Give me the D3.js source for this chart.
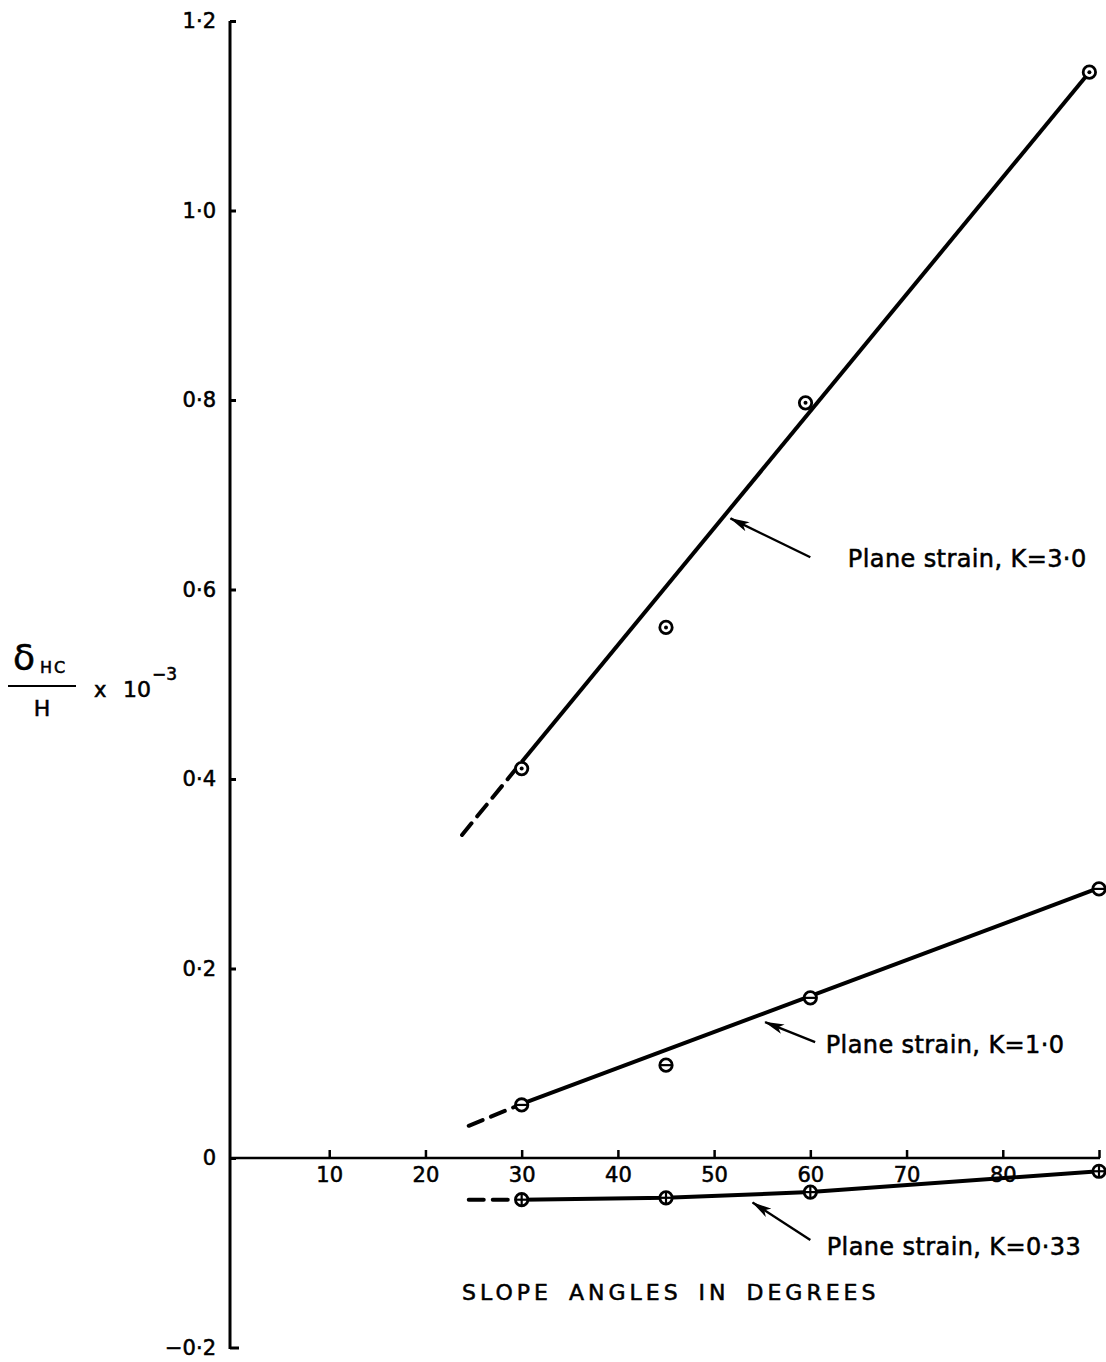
<!DOCTYPE html>
<html>
<head>
<meta charset="utf-8">
<script src="https://cdn.jsdelivr.net/npm/d3@7"></script>
<style>
  body { margin: 0; background: #fff; }
  svg { display: block; }
  text { font-family: "DejaVu Sans", sans-serif; fill: #000; stroke: #000; stroke-width: 0.55px; }
</style>
</head>
<body>
<svg id="chart" width="1106" height="1362"></svg>
<script>
// ---- data: horizontal crest displacement vs slope angle ----
const angleTicks = [10, 20, 30, 40, 50, 60, 70, 80, 90];
const ratioTicks = [-0.2, 0, 0.2, 0.4, 0.6, 0.8, 1.0, 1.2];
const ratioTickLabels = ["\u22120\u00b72", "0", "0\u00b72", "0\u00b74", "0\u00b76", "0\u00b78", "1\u00b70", "1\u00b72"];

// Plane strain, K = 3.0
const k30Angles = [30, 45, 59.5, 89];
const k30Values = [0.411, 0.560, 0.797, 1.146];
const k30FitAngles = [23.8, 30, 89];
const k30FitValues = [0.341, 0.418, 1.146];

// Plane strain, K = 1.0
const k10Angles = [30, 45, 60, 90];
const k10Values = [0.056, 0.098, 0.169, 0.284];
const k10FitAngles = [24.5, 30, 90];
const k10FitValues = [0.034, 0.057, 0.285];

// Plane strain, K = 0.33
const k033Angles = [30, 45, 60, 90];
const k033Values = [-0.044, -0.042, -0.036, -0.014];
const k033FitAngles = [24.5, 30, 45, 60, 90];
const k033FitValues = [-0.044, -0.044, -0.042, -0.036, -0.014];

const seriesLabels = ["Plane strain, K=3\u00b70", "Plane strain, K=1\u00b70", "Plane strain, K=0\u00b733"];

// ---- layout ----
const svg = d3.select("#chart");
const x = d3.scaleLinear().domain([0, 90]).range([233, 1099]);
const y = d3.scaleLinear().domain([-0.2, 1.2]).range([1347.5, 21]);

const axisX = x(0) - 3;

// y axis: ticks point right, labels on the left
const yAxis = d3.axisLeft(y)
  .tickValues(ratioTicks)
  .tickSize(-6)
  .tickPadding(14)
  .tickFormat((d, i) => ratioTickLabels[i]);
const gy = svg.append("g").attr("transform", `translate(${axisX},0)`).call(yAxis);
gy.select(".domain").remove();
gy.selectAll(".tick line").attr("stroke", "#000").attr("stroke-width", 3);
gy.selectAll(".tick text").attr("font-size", 21).attr("font-family", "DejaVu Sans").attr("fill", "#000");
gy.selectAll(".tick").filter(d => d === -0.2).select("line").attr("x2", 9);
svg.append("line")
  .attr("x1", axisX).attr("x2", axisX)
  .attr("y1", y(1.2)).attr("y2", y(-0.2) + 1.5)
  .attr("stroke", "#000").attr("stroke-width", 3);

// x axis along zero: ticks point up, labels below
const xAxis = d3.axisBottom(x)
  .tickValues(angleTicks)
  .tickSize(-8)
  .tickPadding(9)
  .tickFormat(d3.format("d"));
const gx = svg.append("g").attr("transform", `translate(0,${y(0)})`).call(xAxis);
gx.select(".domain").remove();
gx.selectAll(".tick line").attr("stroke", "#000").attr("stroke-width", 2.5);
gx.selectAll(".tick text").attr("font-size", 21).attr("font-family", "DejaVu Sans").attr("fill", "#000");
gx.selectAll(".tick").filter(d => d === 90).select("text").remove();
svg.append("line")
  .attr("x1", axisX).attr("x2", x(90) + 1)
  .attr("y1", y(0)).attr("y2", y(0))
  .attr("stroke", "#000").attr("stroke-width", 2.5);

// ---- fitted lines (first segment is the dashed extrapolation) ----
function drawFit(angles, values) {
  const pts = angles.map((a, i) => [x(a), y(values[i])]);
  const line = d3.line();
  svg.append("path")
    .attr("d", line(pts.slice(0, 2)))
    .attr("fill", "none").attr("stroke", "#000").attr("stroke-width", 4)
    .attr("stroke-dasharray", "15,9").attr("stroke-linecap", "round");
  svg.append("path")
    .attr("d", line(pts.slice(1)))
    .attr("fill", "none").attr("stroke", "#000").attr("stroke-width", 4)
    .attr("stroke-linejoin", "round");
}
drawFit(k30FitAngles, k30FitValues);
drawFit(k10FitAngles, k10FitValues);
drawFit(k033FitAngles, k033FitValues);

// ---- markers ----
function drawMarkers(angles, values, kind) {
  const g = svg.append("g");
  const m = g.selectAll("g").data(angles.map((a, i) => [a, values[i]])).join("g")
    .attr("transform", d => `translate(${x(d[0])},${y(d[1])})`);
  m.append("circle").attr("r", 6.2).attr("fill", "#fff").attr("stroke", "#000").attr("stroke-width", 2.8);
  if (kind === "dot") {
    m.append("circle").attr("r", 2).attr("fill", "#000");
  } else if (kind === "bar") {
    m.append("line").attr("x1", -6).attr("x2", 6).attr("stroke", "#000").attr("stroke-width", 2.2);
  } else if (kind === "plus") {
    m.append("line").attr("x1", -6).attr("x2", 6).attr("stroke", "#000").attr("stroke-width", 2.2);
    m.append("line").attr("y1", -6).attr("y2", 6).attr("stroke", "#000").attr("stroke-width", 2.2);
  }
}
drawMarkers(k30Angles, k30Values, "dot");
drawMarkers(k10Angles, k10Values, "bar");
drawMarkers(k033Angles, k033Values, "plus");

// ---- leader arrows and series labels ----
const defs = svg.append("defs");
defs.append("marker")
  .attr("id", "head").attr("viewBox", "0 0 20 10")
  .attr("refX", 19).attr("refY", 5)
  .attr("markerWidth", 20).attr("markerHeight", 10)
  .attr("markerUnits", "userSpaceOnUse").attr("orient", "auto")
  .append("path").attr("d", "M0,0 L20,5 L0,10 L5,5 Z").attr("fill", "#000");

const leaders = [
  { tail: [60.0, 0.634], tip: [51.7, 0.675], text: [63.9, 0.624], label: seriesLabels[0] },
  { tail: [60.5, 0.1224], tip: [55.3, 0.1435], text: [61.6, 0.111], label: seriesLabels[1] },
  { tail: [60.0, -0.0865], tip: [54.0, -0.047], text: [61.7, -0.102], label: seriesLabels[2] }
];
leaders.forEach(l => {
  svg.append("line")
    .attr("x1", x(l.tail[0])).attr("y1", y(l.tail[1]))
    .attr("x2", x(l.tip[0])).attr("y2", y(l.tip[1]))
    .attr("stroke", "#000").attr("stroke-width", 2.4)
    .attr("marker-end", "url(#head)");
  svg.append("text")
    .attr("x", x(l.text[0])).attr("y", y(l.text[1]))
    .attr("font-size", 24).attr("letter-spacing", 0.4)
    .text(l.label);
});

// ---- axis titles ----
svg.append("text")
  .attr("x", 462).attr("y", 1300)
  .attr("font-size", 22).attr("letter-spacing", 4).attr("word-spacing", 6)
  .text("SLOPE ANGLES IN DEGREES");

const yl = svg.append("g");
yl.append("text").attr("x", 13).attr("y", 670).attr("font-size", 36).text("\u03b4");
yl.append("text").attr("x", 40).attr("y", 673).attr("font-size", 16).attr("letter-spacing", 2).text("HC");
yl.append("line").attr("x1", 8).attr("x2", 76).attr("y1", 686).attr("y2", 686)
  .attr("stroke", "#000").attr("stroke-width", 2);
yl.append("text").attr("x", 42).attr("y", 716).attr("font-size", 22).attr("text-anchor", "middle").text("H");
yl.append("text").attr("x", 94).attr("y", 697).attr("font-size", 21).text("x");
yl.append("text").attr("x", 123).attr("y", 697).attr("font-size", 22).text("10");
yl.append("text").attr("x", 152).attr("y", 680).attr("font-size", 17).text("\u22123");
</script>
</body>
</html>
